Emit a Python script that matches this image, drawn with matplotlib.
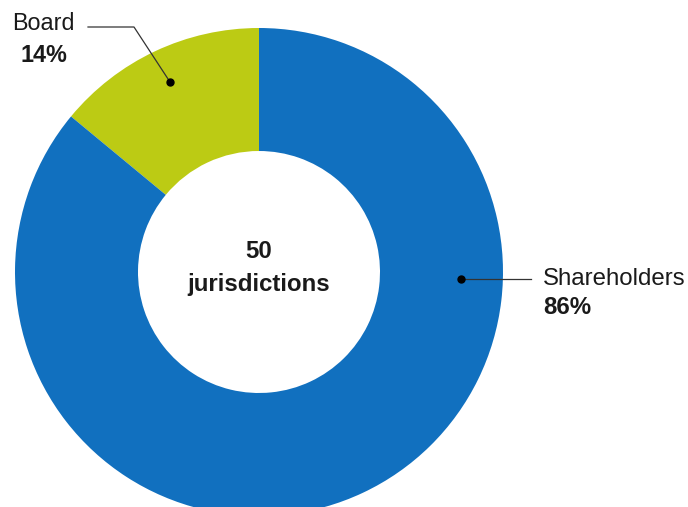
import matplotlib
matplotlib.use("Agg")
import matplotlib.pyplot as plt

# data
labels = ["Board", "Shareholders"]
shares = [14, 86]
colors = ["#BCCB14", "#1170BF"]
center_lines = ["50", "jurisdictions"]

plt.rcParams['font.family'] = ['Liberation Sans', 'DejaVu Sans']

W, H = 688, 507
fig = plt.figure(figsize=(W / 100, H / 100), dpi=100)
ax = fig.add_axes([0, 0, 1, 1])

cx, cy = 259, H - 272
R = 244
hole = 121

wedges, _ = ax.pie(shares, colors=colors, startangle=90, counterclock=True,
                   center=(cx, cy), radius=R,
                   wedgeprops=dict(width=R - hole, linewidth=0))
ax.set_xlim(0, W)
ax.set_ylim(0, H)
ax.set_aspect('equal')
ax.axis('off')

fs = 17.3
txt = '#1a1a1a'

# centre text
ax.text(cx, H - 251, center_lines[0], ha='center', va='center',
        fontsize=fs, fontweight='bold', color=txt)
ax.text(cx, H - 284, center_lines[1], ha='center', va='center',
        fontsize=fs, fontweight='bold', color=txt)

# Board callout
ax.plot([88, 134, 170], [H - 27, H - 27, H - 82], color='#333333', lw=0.9)
ax.plot([170], [H - 82], 'o', color='black', ms=5)
ax.text(43, H - 24, labels[0], ha='center', va='center', fontsize=fs - 0.5, color=txt)
ax.text(44, H - 56, f"{shares[0]}%", ha='center', va='center', fontsize=fs - 0.5,
        fontweight='bold', color=txt)

# Shareholders callout
ax.plot([461, 531], [H - 279, H - 279], color='#333333', lw=0.9)
ax.plot([461], [H - 279], 'o', color='black', ms=5)
ax.text(543, H - 279, labels[1], ha='left', va='center', fontsize=fs, color=txt)
ax.text(543, H - 308, f"{shares[1]}%", ha='left', va='center', fontsize=fs,
        fontweight='bold', color=txt)

fig.savefig("out.png", dpi=100)
